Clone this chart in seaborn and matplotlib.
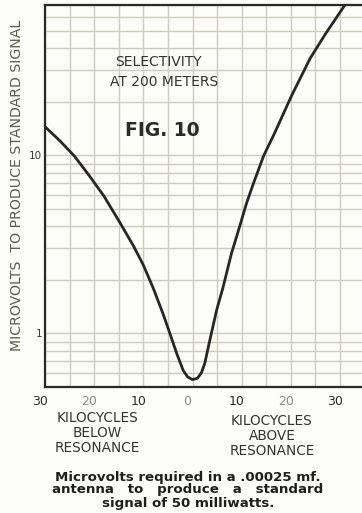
import matplotlib
matplotlib.use("Agg")
import matplotlib.pyplot as plt
import matplotlib.transforms as mtransforms
from matplotlib.ticker import FixedLocator, NullFormatter, LogLocator
import seaborn as sns
import pandas as pd

# Data (kilocycles off resonance, microvolts)
kc_off = [-30, -27, -24, -21, -18, -15, -12, -10, -8, -6, -4.6, -3.2, -1.9, -1.0, 0,
          1.0, 1.8, 2.5, 3.5, 4.9, 6.2, 7.9, 9.6, 11, 12.5, 14.5, 16.5, 20.2, 23.9, 27, 31]
microvolts = [14.5, 12.1, 9.9, 7.7, 5.9, 4.3, 3.1, 2.42, 1.8, 1.29, 1.0, 0.77, 0.62, 0.57, 0.55,
              0.56, 0.6, 0.68, 0.91, 1.35, 1.81, 2.8, 4.0, 5.4, 7.1, 10.0, 13.0, 21.8, 35, 48, 70]
x_ticks = [-30, -20, -10, 0, 10, 20, 30]
x_tick_labels = ["30", "20", "10", "0", "10", "20", "30"]
x_tick_colors = ["#2a2a2a", "#8c8c8c", "#2a2a2a", "#8c8c8c", "#2a2a2a", "#8c8c8c", "#2a2a2a"]
y_ticks = [1, 10]
y_tick_labels = ["1", "10"]

df = pd.DataFrame({"kc": kc_off, "uv": microvolts})

sns.set_theme(style="white")
plt.rcParams['font.family'] = ['DejaVu Sans']

W, H = 362, 513
BG = "#fcfcf8"
fig = plt.figure(figsize=(W / 100, H / 100), dpi=100, facecolor=BG)
ax = fig.add_axes([45 / W, (H - 387) / H, (W - 45) / W, (387 - 5) / H])
ax.set_facecolor(BG)

sns.lineplot(data=df, x="kc", y="uv", ax=ax, color="#262626", linewidth=2.0)

ax.set_yscale("log")
ax.set_xlim(-30, 34.47)
ax.set_ylim(0.5, 70)

ax.set_xticks(x_ticks)
ax.set_xticklabels(x_tick_labels)
ax.xaxis.set_minor_locator(FixedLocator(list(range(-30, 35, 5))))
ax.set_yticks(y_ticks)
ax.set_yticklabels(y_tick_labels)
ax.yaxis.set_minor_locator(LogLocator(base=10, subs=range(2, 10)))
ax.yaxis.set_minor_formatter(NullFormatter())

ax.grid(True, which="both", color="#cdcdbf", linewidth=1.0)
ax.tick_params(axis="both", which="both", length=0)
ax.tick_params(axis="x", pad=6, labelsize=9)
ax.tick_params(axis="y", pad=2, labelsize=7.5, labelcolor="#3a3a3a")
offset = mtransforms.ScaledTranslation(-5 / 100, 0, fig.dpi_scale_trans)
for lbl, c in zip(ax.get_xticklabels(), x_tick_colors):
    lbl.set_transform(lbl.get_transform() + offset)
    lbl.set_color(c)

for side in ["left", "bottom", "top"]:
    ax.spines[side].set_color("#2a2a2a")
    ax.spines[side].set_linewidth(1.6)
ax.spines["right"].set_visible(False)
ax.set_xlabel("")
ax.set_ylabel("")

# In-plot titles
fig.text(158 / W, 1 - 62 / H, "SELECTIVITY", ha="center", va="center",
         fontsize=10, color="#333333")
fig.text(164 / W, 1 - 82 / H, "AT 200 METERS", ha="center", va="center",
         fontsize=10, color="#333333")
fig.text(162 / W, 1 - 130 / H, "FIG. 10", ha="center", va="center",
         fontsize=13.5, fontweight="bold", color="#2a2a2a")

# Y axis label
fig.text(17 / W, 1 - 185 / H, "MICROVOLTS  TO PRODUCE STANDARD SIGNAL", rotation=90,
         ha="center", va="center", fontsize=10.2, color="#5a6048")

# Below-axis labels
fig.text(97 / W, 1 - 433 / H, "KILOCYCLES\nBELOW\nRESONANCE", ha="center", va="center",
         fontsize=9.8, color="#333333", linespacing=1.05, multialignment="center")
fig.text(272 / W, 1 - 436 / H, "KILOCYCLES\nABOVE\nRESONANCE", ha="center", va="center",
         fontsize=9.8, color="#333333", linespacing=1.05, multialignment="center")

# Caption
fig.text(188 / W, 1 - 477 / H, "Microvolts required in a .00025 mf.", ha="center",
         va="center", fontsize=9.6, fontweight="bold", color="#1e1e1e")
fig.text(188 / W, 1 - 490 / H, "antenna   to   produce   a   standard", ha="center",
         va="center", fontsize=9.6, fontweight="bold", color="#1e1e1e")
fig.text(188 / W, 1 - 503 / H, "signal of 50 milliwatts.", ha="center",
         va="center", fontsize=9.6, fontweight="bold", color="#1e1e1e")

fig.savefig("out.png", dpi=100, facecolor=fig.get_facecolor())
